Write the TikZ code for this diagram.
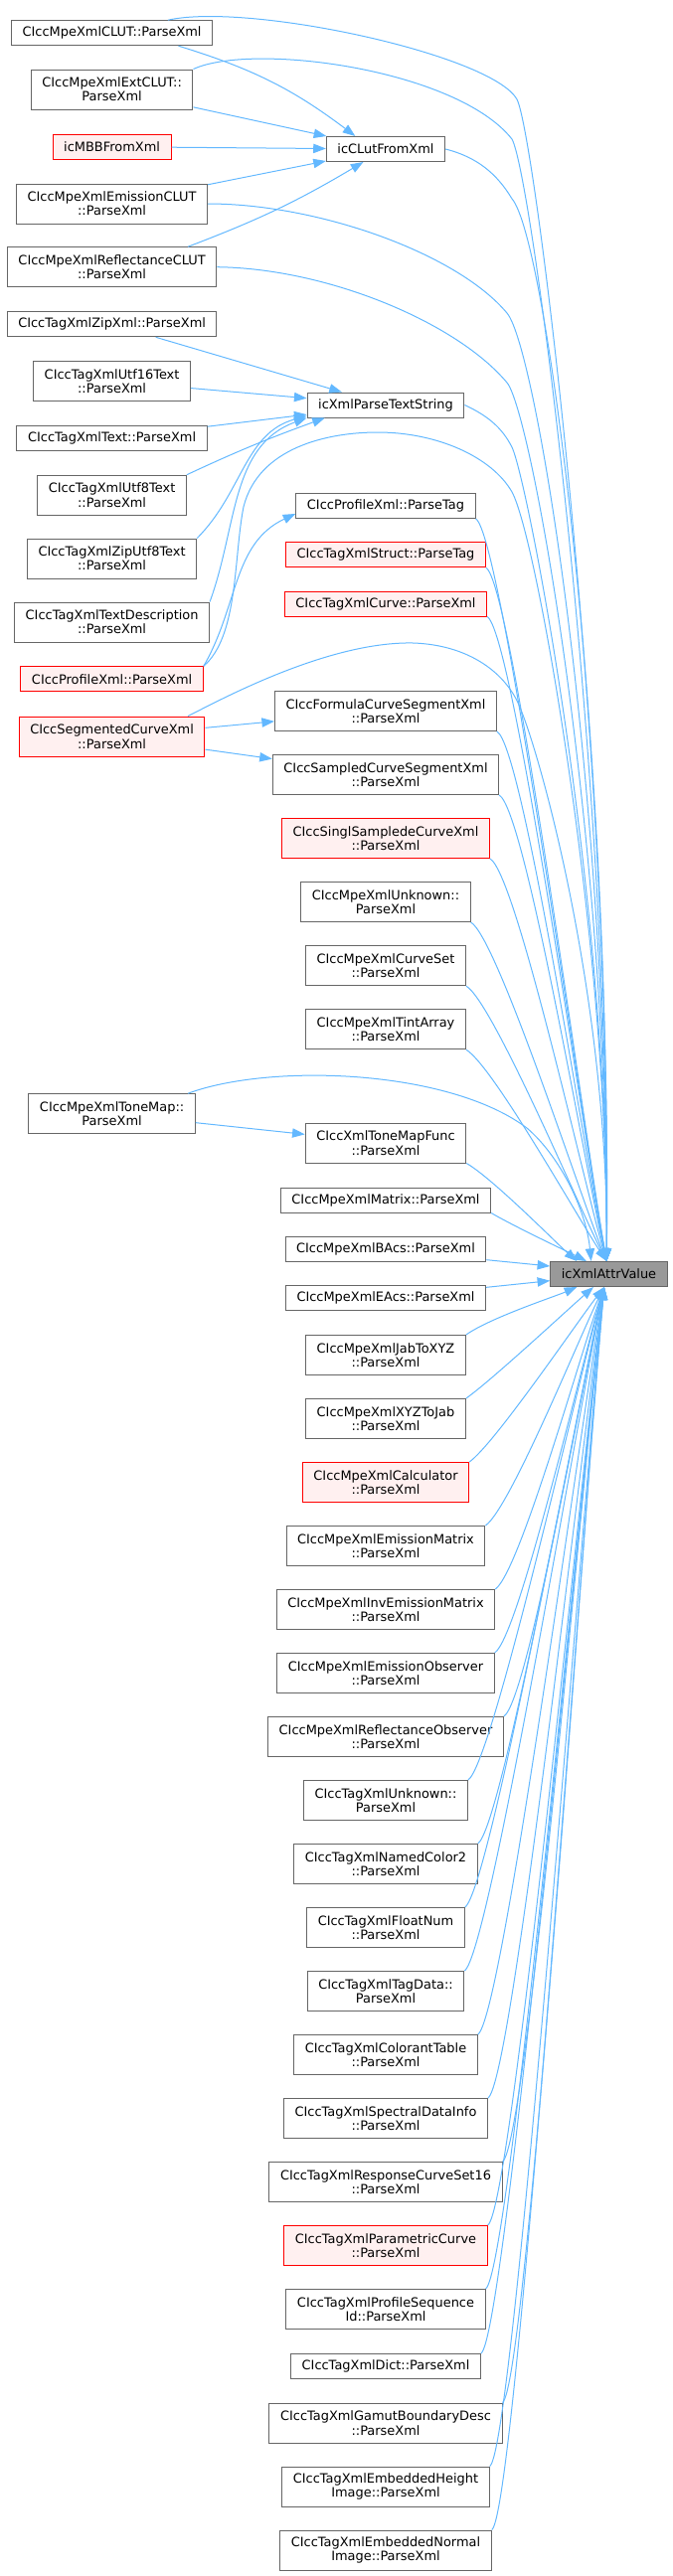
\documentclass[tikz,border=0pt]{standalone}
\usepackage{fontspec}
\setmainfont{DejaVu Sans}
\usetikzlibrary{arrows.meta,calc}
\definecolor{edgeblue}{HTML}{63B8FF}
\definecolor{boxgray}{HTML}{666666}
\definecolor{maingray}{HTML}{999999}
\definecolor{redfill}{HTML}{FFF0F0}
\tikzset{
  fn/.style={draw=boxgray, fill=white, line width=0.75pt, align=center,
    font=\fontsize{9.7}{10.75}\selectfont, inner xsep=8.3pt, inner ysep=0pt,
    minimum height=18.75pt},
  fn2/.style={fn, minimum height=30pt},
  fnred/.style={fn, draw=red, fill=redfill},
  fnred2/.style={fn2, draw=red, fill=redfill},
  fnmain/.style={fn, fill=maingray},
  call/.style={draw=edgeblue, line width=0.75pt, -{Triangle[length=9.5pt,width=7pt]}}
}

\begin{document}
\begin{tikzpicture}[x=0.75pt, y=0.75pt]
    \useasboundingbox (0,0) rectangle (677,-2592);
    % Callee
    \node[fnmain] (attr) at (612.5,-1282) {icXmlAttrValue};
    % Left column
    \node[fn] (clut) at (112.6,-33.2) {CIccMpeXmlCLUT::ParseXml};
    \node[fn2] (extclut) at (112.6,-90) {CIccMpeXmlExtCLUT::\\ParseXml};
    \node[fnred] (mbb) at (112.6,-147.7) {icMBBFromXml};
    \node[fn2] (emclut) at (112.6,-205) {CIccMpeXmlEmissionCLUT\\::ParseXml};
    \node[fn2] (reclut) at (112.6,-268.7) {CIccMpeXmlReflectanceCLUT\\::ParseXml};
    \node[fn] (zipxml) at (112.6,-326.3) {CIccTagXmlZipXml::ParseXml};
    \node[fn2] (utf16) at (112.6,-383.7) {CIccTagXmlUtf16Text\\::ParseXml};
    \node[fn] (txt) at (112.6,-440.8) {CIccTagXmlText::ParseXml};
    \node[fn2] (utf8) at (112.6,-498.2) {CIccTagXmlUtf8Text\\::ParseXml};
    \node[fn2] (ziputf8) at (112.6,-562) {CIccTagXmlZipUtf8Text\\::ParseXml};
    \node[fn2] (textdesc) at (112.6,-626) {CIccTagXmlTextDescription\\::ParseXml};
    \node[fnred] (profxml) at (112.6,-683.3) {CIccProfileXml::ParseXml};
    \node[fnred2] (segcurve) at (112.6,-741) {CIccSegmentedCurveXml\\::ParseXml};
    \node[fn2] (tonemap) at (112.6,-1120.7) {CIccMpeXmlToneMap::\\ParseXml};
    % Middle column
    \node[fn] (clutfx) at (388,-150) {icCLutFromXml};
    \node[fn] (parsetext) at (388,-407.5) {icXmlParseTextString};
    \node[fn] (ptag) at (388,-509) {CIccProfileXml::ParseTag};
    \node[fnred] (structtag) at (388,-558.3) {CIccTagXmlStruct::ParseTag};
    \node[fnred] (curvexml) at (388,-607.5) {CIccTagXmlCurve::ParseXml};
    \node[fn2] (formula) at (388,-715.5) {CIccFormulaCurveSegmentXml\\::ParseXml};
    \node[fn2] (sampled) at (388,-779.5) {CIccSampledCurveSegmentXml\\::ParseXml};
    \node[fnred2] (singl) at (388,-843.5) {CIccSinglSampledeCurveXml\\::ParseXml};
    \node[fn2] (mpeunk) at (388,-907.5) {CIccMpeXmlUnknown::\\ParseXml};
    \node[fn2] (curveset) at (388,-971.7) {CIccMpeXmlCurveSet\\::ParseXml};
    \node[fn2] (tint) at (388,-1035.7) {CIccMpeXmlTintArray\\::ParseXml};
    \node[fn2] (tmfunc) at (388,-1150) {CIccXmlToneMapFunc\\::ParseXml};
    \node[fn] (matrix) at (388,-1207.5) {CIccMpeXmlMatrix::ParseXml};
    \node[fn] (bacs) at (388,-1257) {CIccMpeXmlBAcs::ParseXml};
    \node[fn] (eacs) at (388,-1306) {CIccMpeXmlEAcs::ParseXml};
    \node[fn2] (jab) at (388,-1363.5) {CIccMpeXmlJabToXYZ\\::ParseXml};
    \node[fn2] (xyz) at (388,-1427.5) {CIccMpeXmlXYZToJab\\::ParseXml};
    \node[fnred2] (calc) at (388,-1491.5) {CIccMpeXmlCalculator\\::ParseXml};
    \node[fn2] (emmat) at (388,-1555.5) {CIccMpeXmlEmissionMatrix\\::ParseXml};
    \node[fn2] (invem) at (388,-1619.5) {CIccMpeXmlInvEmissionMatrix\\::ParseXml};
    \node[fn2] (emobs) at (388,-1683.5) {CIccMpeXmlEmissionObserver\\::ParseXml};
    \node[fn2] (reobs) at (388,-1747.5) {CIccMpeXmlReflectanceObserver\\::ParseXml};
    \node[fn2] (tagunk) at (388,-1811.5) {CIccTagXmlUnknown::\\ParseXml};
    \node[fn2] (named) at (388,-1875.5) {CIccTagXmlNamedColor2\\::ParseXml};
    \node[fn2] (float) at (388,-1939.5) {CIccTagXmlFloatNum\\::ParseXml};
    \node[fn2] (tagdata) at (388,-2003.5) {CIccTagXmlTagData::\\ParseXml};
    \node[fn2] (colorant) at (388,-2067.5) {CIccTagXmlColorantTable\\::ParseXml};
    \node[fn2] (spectral) at (388,-2131.5) {CIccTagXmlSpectralDataInfo\\::ParseXml};
    \node[fn2] (resp) at (388,-2195.5) {CIccTagXmlResponseCurveSet16\\::ParseXml};
    \node[fnred2] (param) at (388,-2259.5) {CIccTagXmlParametricCurve\\::ParseXml};
    \node[fn2] (pseq) at (388,-2323.5) {CIccTagXmlProfileSequence\\Id::ParseXml};
    \node[fn] (dict) at (388,-2381) {CIccTagXmlDict::ParseXml};
    \node[fn2] (gamut) at (388,-2438) {CIccTagXmlGamutBoundaryDesc\\::ParseXml};
    \node[fn2] (height) at (388,-2502) {CIccTagXmlEmbeddedHeight\\Image::ParseXml};
    \node[fn2] (normal) at (388,-2566) {CIccTagXmlEmbeddedNormal\\Image::ParseXml};

    % Calls into icCLutFromXml
    \draw[call] (clut.-11) to[bend left=10] (clutfx.157);
    \draw[call] (extclut) -- (clutfx);
    \draw[call] (mbb) -- (clutfx);
    \draw[call] (emclut) -- (clutfx);
    \draw[call] (reclut.15) to[bend right=5] (clutfx.-150);
    % Calls into icXmlParseTextString
    \draw[call] (zipxml) -- (parsetext);
    \draw[call] (utf16) -- (parsetext);
    \draw[call] (txt) -- (parsetext);
    \draw[call] (utf8.north east) to[out=25,in=200] (parsetext.-168);
    \draw[call] (ziputf8.north east) to[out=45,in=195] (parsetext.-172);
    \draw[call] (textdesc.north east) to[out=70,in=200] (parsetext.south west);
    % Other calls between callers
    \draw[call] (profxml.north east) to[out=60,in=205] (ptag.-175);
    \draw[call] (segcurve) -- (formula);
    \draw[call] (segcurve) -- (sampled);
    \draw[call] (tonemap) -- (tmfunc);

    % Long calls into icXmlAttrValue
    \draw[call] (clut.13) .. controls (250,-2) and (495,-55) .. (520,-100)
        .. controls (538,-133) and (616,-760) .. (attr.100);
    \draw[call] (extclut.north east) .. controls (255,-42) and (460,-70) .. (515,-140)
        .. controls (535,-175) and (614,-780) .. (attr.100);
    \draw[call] (emclut.east) .. controls (320,-205) and (460,-255) .. (510,-315)
        .. controls (540,-350) and (612,-800) .. (attr.100);
    \draw[call] (reclut.east) .. controls (330,-270) and (460,-325) .. (510,-385)
        .. controls (535,-415) and (612,-850) .. (attr.100);
    \draw[call] (clutfx.east) .. controls (480,-158) and (500,-175) .. (515,-200)
        .. controls (550,-240) and (615,-750) .. (attr.100);
    \draw[call] (parsetext.east) .. controls (490,-418) and (505,-430) .. (515,-450)
        .. controls (530,-480) and (612,-900) .. (attr.100);
    \draw[call] (profxml.north east) .. controls (240,-640) and (235,-560) .. (245,-510)
        .. controls (260,-450) and (330,-435) .. (380,-435)
        .. controls (440,-435) and (495,-460) .. (515,-495)
        .. controls (540,-540) and (612,-950) .. (attr.100);
    \draw[call] (segcurve.15) .. controls (220,-705) and (330,-645) .. (416,-647)
        .. controls (470,-649) and (505,-675) .. (520,-705)
        .. controls (540,-745) and (612,-1000) .. (attr.100);
    \draw[call] (tonemap.15) .. controls (270,-1070) and (450,-1075) .. (530,-1135)
        .. controls (565,-1165) and (590,-1220) .. (attr.144);

    % Callers above icXmlAttrValue
    \foreach \n/\a in {ptag/100, structtag/100, curvexml/100, formula/100, sampled/100,
        singl/100, mpeunk/100, curveset/100, tint/100, tmfunc/158, matrix/150}
      \draw[call] (\n.south east) .. controls +(-30:30) and ($(attr.\a)!0.2!(\n.south east)$) .. (attr.\a);
    % Callers level with icXmlAttrValue
    \draw[call] ([yshift=-8pt]bacs.east) -- ([yshift=6pt]attr.west);
    \draw[call] ([yshift=8pt]eacs.east) -- ([yshift=-5pt]attr.west);
    % Callers below icXmlAttrValue
    \foreach \n/\a in {jab/-158, xyz/-140, calc/-110, emmat/-110, invem/-110, emobs/-110,
        reobs/-110, tagunk/-110, named/-110, float/-110, tagdata/-110, colorant/-110,
        spectral/-110, resp/-110, param/-110, pseq/-110, dict/-110, gamut/-110,
        height/-110, normal/-110}
      \draw[call] (\n.north east) .. controls +(35:30) and ($(attr.\a)!0.2!(\n.north east)$) .. (attr.\a);
\end{tikzpicture}
\end{document}
